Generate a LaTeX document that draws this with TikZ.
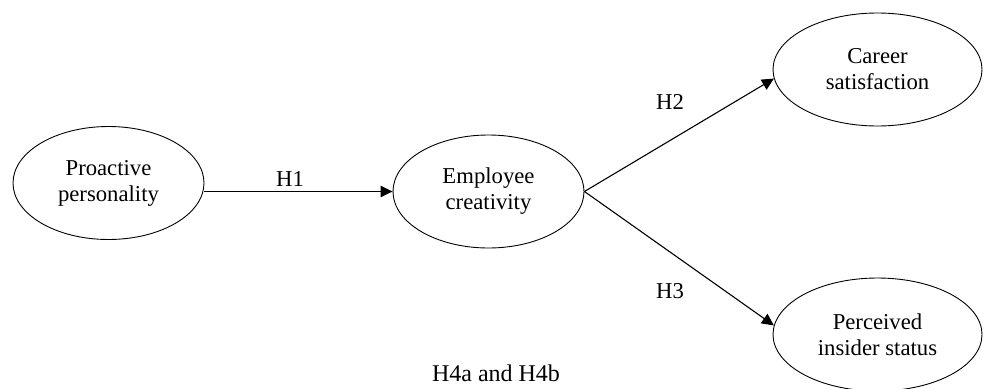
\documentclass[tikz,border=0pt]{standalone}
\usepackage{fontspec}
\setmainfont{Liberation Serif}
\usetikzlibrary{shapes.geometric,arrows.meta}
\begin{document}
\begin{tikzpicture}[x=1pt,y=-1pt,
  construct/.style={draw, line width=0.9pt, ellipse, inner sep=0pt, align=center,
    minimum width=191pt, minimum height=113pt,
    font=\fontsize{22.7}{26}\selectfont},
  wide/.style={minimum width=209pt},
  path/.style={draw, line width=1.1pt, -{Triangle[length=12pt,width=11.5pt]}},
  hlabel/.style={inner sep=0pt, font=\fontsize{22.7}{26}\selectfont}]
\useasboundingbox (0,0) rectangle (984,388);
\node[construct] (pro) at (108.5,183) {Proactive\\personality};
\node[construct] (emp) at (488.5,191.5) {Employee\\creativity};
\node[construct, wide] (car) at (877.5,69.5) {Career\\satisfaction};
\node[construct, wide] (per) at (877.5,334.5) {Perceived\\insider status};
\draw[path] (pro.east |- emp.center) -- (emp.west);
\draw[path] (emp.east) -- (car.185);
\draw[path] (emp.east) -- (per.175);
\node[hlabel] (h1) at (290,179) {H1};
\node[hlabel] (h2) at (670,102) {H2};
\node[hlabel] (h3) at (670,291) {H3};
\node[hlabel, font=\fontsize{24}{28}\selectfont] (h4) at (496,373) {H4a and H4b};
\end{tikzpicture}
\end{document}
